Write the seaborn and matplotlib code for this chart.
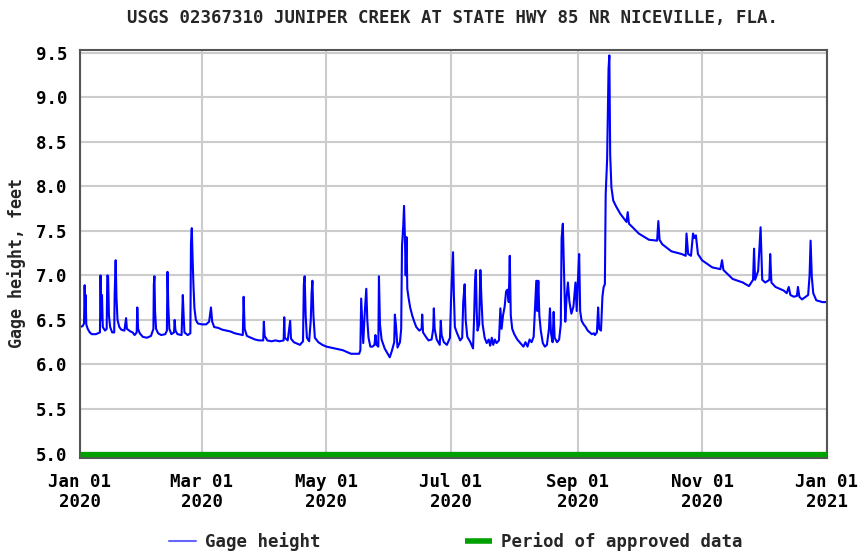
import numpy as np
import pandas as pd
import matplotlib
matplotlib.use("Agg")
import matplotlib.pyplot as plt
import seaborn as sns

# ---- data (day offset from 2020-01-01, gage height in feet) ----
day_offset = [
    0, 1.5, 2.2, 2.5, 2.8, 3.0, 3.3, 4, 5, 6, 8, 10, 10.3, 10.6, 11.0, 11.4, 12.5, 13.3, 13.6, 14.0,
    14.4, 15, 16, 17, 17.2, 17.7, 18.1, 18.6, 19.5, 20.5, 22, 22.8, 23.2, 25, 26, 27, 28, 28.3, 28.7, 29.5,
    31, 33, 35, 36.2, 36.4, 36.7, 37.0, 37.5, 38.5, 40, 42, 42.8, 43.1, 43.5, 44, 45, 46.3, 46.6, 47, 48,
    50, 50.3, 50.6, 51, 51.4, 53, 54.3, 54.6, 55.0, 55.4, 55.8, 56.3, 57, 58, 60, 62, 63.5, 64.4, 65, 66,
    68, 70, 72, 74, 76, 78, 80, 80.4, 80.9, 82, 84, 86, 88, 90, 90.3, 90.7, 92, 94, 96, 98,
    100, 100.3, 100.6, 102, 103.2, 103.6, 105, 107, 108, 109.5, 109.9, 110.3, 110.8, 111.4, 112.5, 113.3, 113.7, 114.1, 114.6, 115.3,
    117, 119, 120, 121, 123, 125, 127, 129, 131, 133, 135, 137, 137.6, 138, 138.4, 139, 139.8, 140.5, 141, 141.6,
    142.5, 143.5, 144.5, 145, 145.5, 146.4, 146.7, 147.2, 148, 149.5, 151, 152, 153, 154.2, 154.5, 155, 155.8, 157, 157.6, 158,
    158.6, 159, 159.4, 159.8, 160.2, 160.6, 161.2, 162, 163, 164, 165, 166.5, 167.6, 167.9, 168.3, 170, 171, 172.5, 173.3, 173.6,
    174, 175, 176.5, 177, 177.4, 178.5, 180, 181.5, 182, 182.5, 183, 183.4, 183.9, 185, 186.5, 187.5, 188, 188.7, 189.2, 190,
    191.5, 192.8, 193.3, 193.8, 194.2, 194.6, 195, 195.8, 196.4, 196.9, 197.5, 198.5, 199.5, 200.5, 201.2, 202, 202.7, 203.5, 204.3, 205.5,
    206.2, 206.8, 207.5, 208.3, 209, 209.7, 210.3, 210.8, 211.3, 212, 213, 214.5, 216, 217.5, 218.5, 219.5, 220.5, 221.5, 222.5, 223,
    223.8, 224.3, 224.8, 225.3, 226, 227, 228, 229, 230, 230.5, 231, 231.8, 232.3, 232.8, 234, 235, 235.8, 236.2, 236.8, 237.3,
    238, 238.7, 239.3, 240, 241, 242, 243, 243.6, 244.2, 244.8, 245.3, 246, 247, 248, 249, 250, 251, 252, 252.5, 253.5,
    254.1, 254.6, 255.5, 256.2, 256.8, 257.4, 257.8, 258.5, 259.2, 259.6, 260.0, 260.6, 261.5, 263, 265, 268, 268.6, 269.2, 271, 274,
    279, 283, 283.6, 284.2, 285.5, 290, 295, 297, 297.4, 298.2, 299.6, 300.6, 301.3, 302, 303, 305, 310, 314, 314.8, 315.5,
    320, 325, 328, 330, 330.5, 331, 332.5, 333.7, 334.5, 336, 338, 338.4, 339, 341, 345, 346.5, 347.5, 348.3, 350, 351.5,
    352, 352.7, 354, 357, 357.7, 358.2, 358.8, 359.5, 361, 364, 366,
]
gage_height = [
    6.42, 6.43, 6.46, 6.89, 6.55, 6.78, 6.45, 6.40, 6.36, 6.34, 6.34, 6.36, 7.00, 6.50, 6.78, 6.42, 6.38, 6.40, 7.00, 6.99,
    6.55, 6.42, 6.36, 6.36, 6.78, 7.17, 6.75, 6.50, 6.42, 6.39, 6.38, 6.52, 6.40, 6.37, 6.36, 6.33, 6.36, 6.64, 6.40, 6.35,
    6.31, 6.30, 6.32, 6.40, 6.90, 6.99, 6.60, 6.40, 6.35, 6.33, 6.34, 6.38, 7.04, 6.65, 6.40, 6.34, 6.36, 6.50, 6.38, 6.34,
    6.33, 6.55, 6.78, 6.55, 6.36, 6.33, 6.35, 7.36, 7.53, 7.19, 6.90, 6.63, 6.50, 6.46, 6.45, 6.45, 6.48, 6.64, 6.48, 6.42,
    6.41, 6.39, 6.38, 6.37, 6.35, 6.34, 6.33, 6.76, 6.40, 6.32, 6.30, 6.28, 6.27, 6.27, 6.48, 6.32, 6.27, 6.26, 6.27, 6.26,
    6.27, 6.53, 6.30, 6.27, 6.49, 6.29, 6.25, 6.23, 6.22, 6.26, 6.90, 6.99, 6.55, 6.30, 6.26, 6.50, 6.80, 6.94, 6.55, 6.30,
    6.25, 6.22, 6.21, 6.20, 6.19, 6.18, 6.17, 6.16, 6.14, 6.12, 6.12, 6.12, 6.16, 6.74, 6.55, 6.24, 6.60, 6.85, 6.50, 6.30,
    6.20, 6.20, 6.22, 6.33, 6.22, 6.20, 6.99, 6.45, 6.28, 6.18, 6.12, 6.08, 6.15, 6.25, 6.56, 6.45, 6.19, 6.25, 6.40, 7.33,
    7.55, 7.78, 7.45, 7.00, 7.43, 6.85, 6.75, 6.64, 6.55, 6.48, 6.42, 6.38, 6.40, 6.56, 6.36, 6.30, 6.27, 6.28, 6.40, 6.63,
    6.40, 6.28, 6.22, 6.49, 6.33, 6.25, 6.22, 6.30, 6.70, 7.00, 7.26, 6.80, 6.42, 6.35, 6.27, 6.30, 6.70, 6.90, 6.50, 6.31,
    6.25, 6.18, 6.50, 6.95, 7.06, 6.60, 6.38, 6.45, 7.06, 6.75, 6.45, 6.30, 6.24, 6.28, 6.21, 6.30, 6.22, 6.28, 6.24, 6.27,
    6.63, 6.40, 6.55, 6.65, 6.82, 6.84, 6.70, 7.22, 6.55, 6.40, 6.34, 6.28, 6.24, 6.20, 6.25, 6.20, 6.28, 6.25, 6.31, 6.55,
    6.94, 6.60, 6.94, 6.55, 6.38, 6.24, 6.20, 6.22, 6.40, 6.63, 6.35, 6.25, 6.59, 6.30, 6.25, 6.28, 6.45, 7.42, 7.58, 7.10,
    6.48, 6.77, 6.92, 6.71, 6.57, 6.65, 6.92, 6.60, 6.95, 7.24, 6.60, 6.49, 6.45, 6.42, 6.38, 6.36, 6.34, 6.35, 6.33, 6.36,
    6.64, 6.40, 6.38, 6.76, 6.87, 6.90, 7.91, 8.30, 9.32, 9.47, 8.36, 7.99, 7.84, 7.77, 7.69, 7.60, 7.71, 7.58, 7.54, 7.47,
    7.40, 7.39, 7.61, 7.40, 7.35, 7.27, 7.24, 7.22, 7.47, 7.24, 7.22, 7.47, 7.42, 7.45, 7.24, 7.17, 7.09, 7.07, 7.17, 7.06,
    6.96, 6.92, 6.88, 6.95, 7.30, 6.95, 7.05, 7.54, 6.95, 6.92, 6.95, 7.24, 6.92, 6.87, 6.83, 6.80, 6.87, 6.78, 6.76, 6.77,
    6.87, 6.76, 6.73, 6.78, 7.00, 7.39, 6.98, 6.80, 6.72, 6.70, 6.70,
]
approved_period = ["2020-01-01", "2021-01-01"]
approved_level = [5.0, 5.0]
x_tick_dates = ["2020-01-01", "2020-03-01", "2020-05-01", "2020-07-01", "2020-09-01", "2020-11-01", "2021-01-01"]
x_tick_labels = ["Jan 01\n2020", "Mar 01\n2020", "May 01\n2020", "Jul 01\n2020", "Sep 01\n2020", "Nov 01\n2020", "Jan 01\n2021"]
y_ticks = [5.0, 5.5, 6.0, 6.5, 7.0, 7.5, 8.0, 8.5, 9.0, 9.5]
title = "USGS 02367310 JUNIPER CREEK AT STATE HWY 85 NR NICEVILLE, FLA."

start = pd.Timestamp("2020-01-01")
df = pd.DataFrame({
    "date": start + pd.to_timedelta(day_offset, unit="D"),
    "gage": gage_height,
})
df_ap = pd.DataFrame({"date": pd.to_datetime(approved_period), "level": approved_level})

sns.set_theme(style="white")
plt.rcParams["font.family"] = ["DejaVu Sans Mono", "DejaVu Sans"]
plt.rcParams["font.weight"] = "bold"

fig = plt.figure(figsize=(8.58, 5.54), dpi=100)
ax = fig.add_axes([0.0927, 0.1733, 0.8706, 0.7364])

sns.lineplot(data=df, x="date", y="gage", ax=ax, color="#0000FF", linewidth=1.5,
             label="Gage height", estimator=None, sort=False)
sns.lineplot(data=df_ap, x="date", y="level", ax=ax, color="#00A000", linewidth=3.8,
             label="Period of approved data", estimator=None, sort=False)
ax.get_lines()[1].set_clip_on(False)
ax.get_lines()[1].set_solid_capstyle("butt")
ax.get_lines()[1].set_zorder(5)

ax.set_xlim(pd.Timestamp("2020-01-01"), pd.Timestamp("2021-01-01"))
ax.set_ylim(4.95, 9.53)
ax.set_yticks(y_ticks)
ax.set_yticklabels([f"{v:.1f}" for v in y_ticks])
ax.set_xticks(pd.to_datetime(x_tick_dates))
ax.set_xticklabels(x_tick_labels, linespacing=1.15)
ax.tick_params(axis="both", length=0, labelsize=12.5, colors="black")
ax.tick_params(axis="y", pad=9)
ax.tick_params(axis="x", pad=11)
for lab in ax.get_xticklabels() + ax.get_yticklabels():
    lab.set_fontweight("bold")

ax.grid(True, color="#cccccc", linewidth=1.5)
ax.set_axisbelow(True)
for s in ax.spines.values():
    s.set_visible(True)
    s.set_color("#555555")
    s.set_linewidth(1.5)

ax.set_xlabel("")
ax.set_ylabel("Gage height, feet", fontsize=12, fontweight="bold")
ax.yaxis.set_label_coords(-0.072, 0.478)

fig.text(0.527, 0.967, title, ha="center", va="center", fontsize=12.5, fontweight="bold")

ax.get_legend().remove()
handles, labels = ax.get_legend_handles_labels()
leg = fig.legend(handles, labels, loc="center", bbox_to_anchor=(0.531, 0.0217), ncol=2,
                 frameon=False, handlelength=1.6, handletextpad=0.5,
                 columnspacing=8.3, prop={"weight": "bold", "size": 12.5})
leg.get_lines()[0].set_color("#6666FF")
leg.get_lines()[0].set_linewidth(1.5)
leg.get_lines()[1].set_linewidth(4)

fig.savefig("out.png", dpi=100)
